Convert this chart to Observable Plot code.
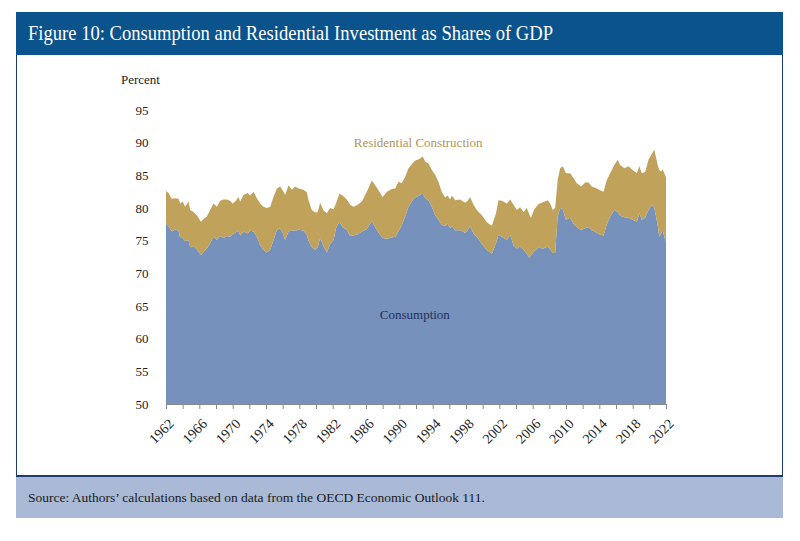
<!DOCTYPE html>
<html><head><meta charset="utf-8">
<script src="https://cdn.jsdelivr.net/npm/d3@7"></script>
<script src="https://cdn.jsdelivr.net/npm/@observablehq/plot@0.6"></script>
<style>
body{margin:0;background:#fff;font-family:"Liberation Serif",serif;}
#wrap{position:relative;width:800px;height:541px;overflow:hidden;background:#fff;}
#header{position:absolute;left:16px;top:12px;width:767px;height:43px;background:#0b538c;}
#title{position:absolute;left:12px;top:0;line-height:43px;font-size:21px;color:#fff;white-space:nowrap;transform:scaleX(0.885);transform-origin:0 50%;}
#box{position:absolute;left:16px;top:55px;width:765px;height:421px;border-left:1px solid #1c3d6e;border-right:1px solid #1c3d6e;}
#source{position:absolute;left:16px;top:475px;width:767px;height:43px;background:#a9b9d6;border-top:2px solid #1c3d6e;box-sizing:border-box;}
#srctext{position:absolute;left:12px;top:0;line-height:41px;font-size:13.5px;color:#1a1a1a;white-space:nowrap;}
#percent{position:absolute;left:121px;top:72px;font-size:13px;color:#222;}
#chart{position:absolute;left:0;top:60px;}
</style>
</head><body>
<div id="wrap">
  <div id="header"><div id="title">Figure 10: Consumption and Residential Investment as Shares of GDP</div></div>
  <div id="box"></div>
  <div id="source"><div id="srctext">Source: Authors’ calculations based on data from the OECD Economic Outlook 111.</div></div>
  <div id="percent">Percent</div>
  <div id="chart"></div>
</div>
<script>
const years = [1962.0,1962.3,1962.7,1963.1,1963.5,1963.7,1964.0,1964.3,1964.7,1964.9,1965.3,1965.7,1966.2,1966.5,1966.9,1967.3,1967.7,1968.1,1968.5,1968.9,1969.3,1969.7,1970.0,1970.3,1970.7,1970.9,1971.3,1971.8,1972.1,1972.5,1972.9,1973.3,1973.7,1974.1,1974.5,1974.9,1975.3,1975.7,1976.1,1976.3,1976.7,1977.1,1977.5,1977.9,1978.5,1978.9,1979.1,1979.5,1979.9,1980.2,1980.5,1980.9,1981.3,1981.7,1982.1,1982.4,1982.8,1983.2,1983.7,1984.1,1984.5,1985.0,1985.5,1986.1,1986.7,1987.1,1987.5,1988.0,1988.5,1989.1,1989.5,1989.9,1990.3,1990.7,1991.1,1991.7,1992.0,1992.4,1992.8,1993.1,1993.5,1993.9,1994.3,1994.7,1995.1,1995.5,1995.8,1996.1,1996.3,1996.7,1997.3,1997.9,1998.2,1998.5,1998.9,1999.3,1999.9,2000.5,2001.1,2001.6,2001.9,2002.3,2002.9,2003.3,2003.7,2004.1,2004.5,2004.9,2005.3,2005.6,2005.8,2006.2,2006.7,2007.3,2007.8,2008.1,2008.4,2008.7,2009.0,2009.3,2009.6,2010.0,2010.5,2010.9,2011.3,2011.8,2012.3,2012.7,2013.1,2013.7,2014.1,2014.5,2014.9,2015.3,2015.8,2016.2,2016.5,2017.0,2017.5,2018.0,2018.5,2018.8,2019.1,2019.5,2019.9,2020.3,2020.6,2021.0,2021.2,2021.4,2021.6,2021.8,2022.0];
const consumption = [77.7,77.2,76.4,76.7,76.5,75.4,75.4,74.9,75.1,74.0,74.2,73.7,72.8,73.3,73.8,74.6,75.6,75.1,75.7,75.4,75.7,75.6,76.0,76.2,76.5,75.8,76.4,76.1,76.5,76.4,75.6,74.3,73.6,73.2,73.6,75.1,76.6,76.9,75.9,75.1,76.4,76.6,76.5,76.7,76.5,75.9,75.0,74.0,73.6,74.0,75.4,74.2,73.2,74.5,75.1,76.9,77.9,77.1,76.6,75.7,75.8,76.0,76.4,76.8,78.0,77.1,76.2,75.4,75.3,75.5,75.6,76.4,77.4,78.7,80.2,81.4,81.7,81.9,82.3,81.5,81.2,80.2,78.9,78.2,77.4,77.3,77.6,76.9,77.3,76.6,76.6,76.2,76.6,77.3,76.1,75.6,74.5,73.6,73.0,74.6,75.9,75.6,75.1,75.9,74.3,73.8,74.1,73.6,73.0,72.4,72.8,73.4,73.9,73.8,74.1,73.7,73.1,73.1,78.7,80.0,79.8,78.2,78.5,77.6,77.1,76.6,76.9,77.1,76.6,76.2,75.9,75.8,77.5,78.7,79.7,79.4,78.8,78.6,78.5,78.2,77.9,79.2,78.2,78.5,79.7,80.5,80.0,77.4,75.6,76.1,76.6,75.6,74.9];
const residential = [4.9,5.1,5.0,4.8,4.9,5.3,5.6,5.3,5.9,5.7,5.2,5.2,5.1,5.0,4.9,5.1,5.1,5.1,5.4,5.9,5.6,5.5,4.7,4.8,5.2,5.2,5.6,6.2,5.4,6.1,5.9,6.4,6.6,6.8,6.6,6.6,6.4,6.4,6.6,6.9,7.1,6.2,6.8,6.3,6.3,6.5,6.2,5.7,5.7,5.4,5.4,5.4,6.0,5.5,4.7,3.8,4.3,4.8,4.7,4.8,4.4,4.5,4.6,5.7,6.2,6.4,6.5,6.3,7.2,7.4,7.4,7.6,6.4,6.1,5.9,5.6,5.6,5.6,5.6,5.6,5.6,5.6,6.2,5.8,5.0,4.3,4.3,4.4,4.6,4.6,4.7,4.6,4.5,4.4,4.4,4.1,4.4,4.2,4.3,4.6,5.3,5.5,5.6,5.4,6.2,5.9,6.0,5.8,7.0,6.6,5.7,6.4,6.7,7.1,7.1,7.0,6.6,6.9,5.6,6.1,6.6,7.1,6.8,7.0,6.7,6.7,7.0,6.8,6.7,6.8,6.8,6.7,6.8,6.6,6.9,8.0,7.8,7.5,7.9,7.6,7.4,7.2,7.1,7.0,7.7,7.8,8.9,9.2,10.2,9.5,9.3,9.7,9.8];
const seriesNames = ["Consumption", "Residential Construction"];
const seriesColors = ["#7691bb", "#c1a25b"];
const yTicks = [50, 55, 60, 65, 70, 75, 80, 85, 90, 95];
const xTicks = d3.range(1962, 2023, 2);
const xTickLabels = [1962,1966,1970,1974,1978,1982,1986,1990,1994,1998,2002,2006,2010,2014,2018,2022];
const annotations = [
  {label: "Residential Construction", year: 1992.2, value: 90.0, color: "#b39555"},
  {label: "Consumption", year: 1991.8, value: 63.8, color: "#1f2f5c"}
];

const long = [];
years.forEach((y, i) => {
  long.push({year: y, series: seriesNames[0], value: consumption[i]});
  long.push({year: y, series: seriesNames[1], value: residential[i]});
});

const chart = Plot.plot({
  width: 800,
  height: 390,
  marginLeft: 166,
  marginRight: 134,
  marginTop: 50,
  marginBottom: 46,
  style: {fontFamily: "Liberation Serif, serif", fontSize: "13px", color: "#222", background: "transparent"},
  x: {domain: [1962, 2022]},
  y: {domain: [50, 95]},
  color: {domain: seriesNames, range: seriesColors},
  marks: [
    Plot.areaY(long, {x: "year", y: "value", z: "series", fill: "series", clip: true}),
    Plot.ruleY([50], {stroke: "#8a8a8a", strokeWidth: 1}),
    Plot.axisY({ticks: yTicks, tickSize: 0, tickPadding: 18, label: null, fontSize: 13}),
    Plot.axisX({ticks: xTicks, tickSize: 5, stroke: "#8a8a8a", label: null, tickFormat: () => ""}),
    Plot.axisX({ticks: xTickLabels, tickSize: 0, tickRotate: -45, tickPadding: 17, dx: 5, label: null, fontSize: 14,
      tickFormat: d => String(d)}),
    Plot.text(annotations, {x: "year", y: "value", text: "label", fill: "color", fontSize: 13, textAnchor: "middle"})
  ]
});
document.getElementById("chart").appendChild(chart);
</script>
</body></html>
